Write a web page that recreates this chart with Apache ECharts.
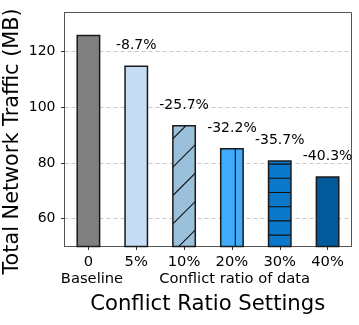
<!DOCTYPE html>
<html>
<head>
<meta charset="utf-8">
<script src="https://cdn.jsdelivr.net/npm/echarts@6/dist/echarts.min.js"></script>
<style>
html,body{margin:0;padding:0;background:#fff;}
#chart{width:359px;height:325px;}
</style>
</head>
<body>
<div id="chart"></div>
<script>
const categories = ['0', '5%', '10%', '20%', '30%', '40%'];
const traffic = [126.0, 115.0, 93.6, 85.4, 81.0, 75.2];
const reductionLabels = ['', '-8.7%', '-25.7%', '-32.2%', '-35.7%', '-40.3%'];
const yTicks = [60, 80, 100, 120];
const groupLabels = ['Baseline', 'Conflict ratio of data'];

const FONT = 'DejaVu Sans';
const fills = ['#808080', '#c6dcf4', '#9ac0dc', '#40abfa', '#0a78cb', '#035a9b'];
const hatches = ['none', 'none', 'diag', 'vert', 'horiz', 'none'];

function makePattern(bg, kind) {
  if (kind === 'none') return bg;
  const c = document.createElement('canvas');
  const ctx = c.getContext('2d');
  if (kind === 'diag') { c.width = 142; c.height = 142; }
  if (kind === 'horiz') { c.width = 4; c.height = 71; }
  if (kind === 'vert') { c.width = 142; c.height = 4; }
  ctx.fillStyle = bg;
  ctx.fillRect(0, 0, c.width, c.height);
  ctx.strokeStyle = '#111';
  ctx.lineWidth = 1.1;
  ctx.beginPath();
  if (kind === 'diag') {
    for (let k = -2; k <= 12; k++) {
      const s = 27.6 + k * 28.4;
      ctx.moveTo(s + 20, -20);
      ctx.lineTo(s - 180, 180);
    }
  } else if (kind === 'horiz') {
    for (let k = 0; k < 5; k++) {
      const y = 7.9 + k * 14.2;
      ctx.moveTo(-1, y); ctx.lineTo(c.width + 1, y);
    }
  } else if (kind === 'vert') {
    for (let k = 0; k < 5; k++) {
      const x = 8.1 + k * 28.4;
      ctx.moveTo(x, -1); ctx.lineTo(x, c.height + 1);
    }
  }
  ctx.stroke();
  return { image: c, repeat: 'repeat' };
}

const chart = echarts.init(document.getElementById('chart'), null, { renderer: 'canvas' });

const option = {
  animation: false,
  backgroundColor: '#fff',
  grid: {
    left: 64.5, top: 12.5, right: 7.5, bottom: 78.5,
    show: true, borderColor: '#555', borderWidth: 1, backgroundColor: 'transparent'
  },
  xAxis: {
    type: 'category',
    data: categories,
    boundaryGap: true,
    axisLine: { show: true, lineStyle: { color: '#555', width: 1 } },
    axisTick: { show: true, alignWithLabel: true, length: 3.5, lineStyle: { color: '#333' } },
    axisLabel: { fontFamily: FONT, fontSize: 14.7, color: '#000', margin: 8 },
    splitLine: { show: false }
  },
  yAxis: {
    type: 'value',
    min: 50,
    max: 134,
    axisLine: { show: true, lineStyle: { color: '#555', width: 1 } },
    axisTick: { show: true, length: 3.5, customValues: yTicks, lineStyle: { color: '#333' } },
    axisLabel: { fontFamily: FONT, fontSize: 14, color: '#000', margin: 9, customValues: yTicks },
    splitLine: { show: true, lineStyle: { color: '#c8c8c8', type: [4, 3], width: 1 } }
  },
  series: [{
    type: 'bar',
    barWidth: '50%',
    data: traffic.map((v, i) => ({
      value: v,
      itemStyle: {
        color: makePattern(fills[i], hatches[i]),
        borderColor: '#1a1a1a',
        borderWidth: 1.5
      }
    })),
    label: {
      show: true,
      position: 'top',
      distance: 13,
      fontFamily: FONT,
      fontSize: 14,
      color: '#000',
      formatter: p => reductionLabels[p.dataIndex]
    }
  }],
  graphic: [
    {
      type: 'text', x: 92, y: 279,
      style: { text: groupLabels[0], font: '14.7px "DejaVu Sans"', fill: '#000', textAlign: 'center', textVerticalAlign: 'middle' }
    },
    {
      type: 'text', x: 234.7, y: 279,
      style: { text: groupLabels[1], font: '14.7px "DejaVu Sans"', fill: '#000', textAlign: 'center', textVerticalAlign: 'middle' }
    },
    {
      type: 'text', x: 207.7, y: 304,
      style: { text: 'Conflict Ratio Settings', font: '21.2px "DejaVu Sans"', fill: '#000', textAlign: 'center', textVerticalAlign: 'middle' }
    },
    {
      type: 'text', x: 12.5, y: 141.5, rotation: Math.PI / 2,
      style: { text: 'Total Network Traffic (MB)', font: '20.8px "DejaVu Sans"', fill: '#000', textAlign: 'center', textVerticalAlign: 'middle' }
    }
  ]
};
chart.setOption(option);
</script>
</body>
</html>
